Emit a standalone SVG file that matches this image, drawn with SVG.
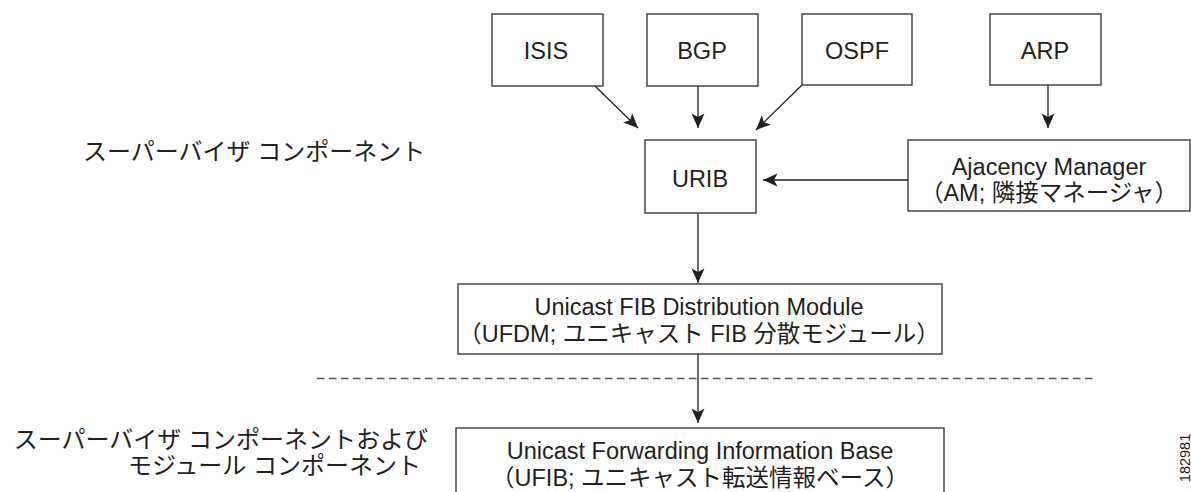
<svg xmlns="http://www.w3.org/2000/svg" width="1191" height="492" viewBox="0 0 1191 492">
  <style>
    .box { fill: #ffffff; stroke: #3a3a3a; stroke-width: 1.4; }
    .lbl { font-family: "Liberation Sans", "Noto Sans CJK JP", sans-serif; font-size: 23.5px; fill: #231f20; text-anchor: middle; }
    .side { font-family: "Liberation Sans", "Noto Sans CJK JP", sans-serif; font-size: 24px; fill: #231f20; }
    .wire { fill: none; stroke: #231f20; stroke-width: 1.3; marker-end: url(#arrow); }
    .divider { fill: none; stroke: #555555; stroke-width: 1.3; stroke-dasharray: 7.5 4.5; }
    .tag { font-family: "Liberation Sans", sans-serif; font-size: 14.5px; fill: #231f20; text-anchor: middle; }
  </style>
  <defs>
    <marker id="arrow" viewBox="-16 -8 17 16" refX="0" refY="0" markerWidth="17" markerHeight="16" markerUnits="userSpaceOnUse" orient="auto">
      <path d="M0,0 L-14.5,-6.5 L-11,0 L-14.5,6.5 Z" fill="#231f20"/>
    </marker>
  </defs>
  <rect width="1191" height="492" fill="#ffffff"/>

  <!-- layer captions -->
  <text class="side" x="83" y="160">スーパーバイザ コンポーネント</text>
  <text class="side" x="428" y="448" text-anchor="end">スーパーバイザ コンポーネントおよび</text>
  <text class="side" x="421" y="474" text-anchor="end">モジュール コンポーネント</text>

  <!-- boundary between supervisor and module layers -->
  <line class="divider" x1="317" y1="378.5" x2="1093" y2="378.5"/>

  <!-- connectors -->
  <g id="connectors">
    <line class="wire" x1="595" y1="86" x2="638" y2="128"/>
    <line class="wire" x1="698" y1="86" x2="698" y2="128"/>
    <line class="wire" x1="802" y1="85" x2="756" y2="130"/>
    <line class="wire" x1="1048" y1="85" x2="1048" y2="128"/>
    <line class="wire" x1="908" y1="180" x2="763" y2="180"/>
    <line class="wire" x1="698" y1="213" x2="698" y2="283"/>
    <line class="wire" x1="698" y1="354" x2="698" y2="423"/>
  </g>

  <!-- routing protocol sources -->
  <g id="isis">
    <rect class="box" x="492" y="14" width="111" height="72"/>
    <text class="lbl" x="546" y="59">ISIS</text>
  </g>
  <g id="bgp">
    <rect class="box" x="647" y="14" width="111" height="72"/>
    <text class="lbl" x="702" y="59">BGP</text>
  </g>
  <g id="ospf">
    <rect class="box" x="802" y="14" width="110" height="71"/>
    <text class="lbl" x="857" y="59">OSPF</text>
  </g>
  <g id="arp">
    <rect class="box" x="990" y="14" width="111" height="71"/>
    <text class="lbl" x="1045" y="59">ARP</text>
  </g>

  <!-- unicast RIB -->
  <g id="urib">
    <rect class="box" x="645" y="140" width="111" height="73"/>
    <text class="lbl" x="700" y="187">URIB</text>
  </g>

  <!-- adjacency manager -->
  <g id="am">
    <rect class="box" x="908" y="140" width="282" height="71"/>
    <text class="lbl" x="1049" y="175">Ajacency Manager</text>
    <text class="lbl" x="1049" y="201">（AM; 隣接マネージャ）</text>
  </g>

  <!-- FIB distribution module -->
  <g id="ufdm">
    <rect class="box" x="458" y="284" width="484" height="70"/>
    <text class="lbl" x="699" y="315">Unicast FIB Distribution Module</text>
    <text class="lbl" x="699" y="342">（UFDM; ユニキャスト FIB 分散モジュール）</text>
  </g>

  <!-- forwarding information base -->
  <g id="ufib">
    <rect class="box" x="456" y="428" width="488" height="80"/>
    <text class="lbl" x="700" y="459">Unicast Forwarding Information Base</text>
    <text class="lbl" x="700" y="486">（UFIB; ユニキャスト転送情報ベース）</text>
  </g>

  <!-- figure number -->
  <text class="tag" transform="translate(1190,458) rotate(-90)">182981</text>
</svg>
